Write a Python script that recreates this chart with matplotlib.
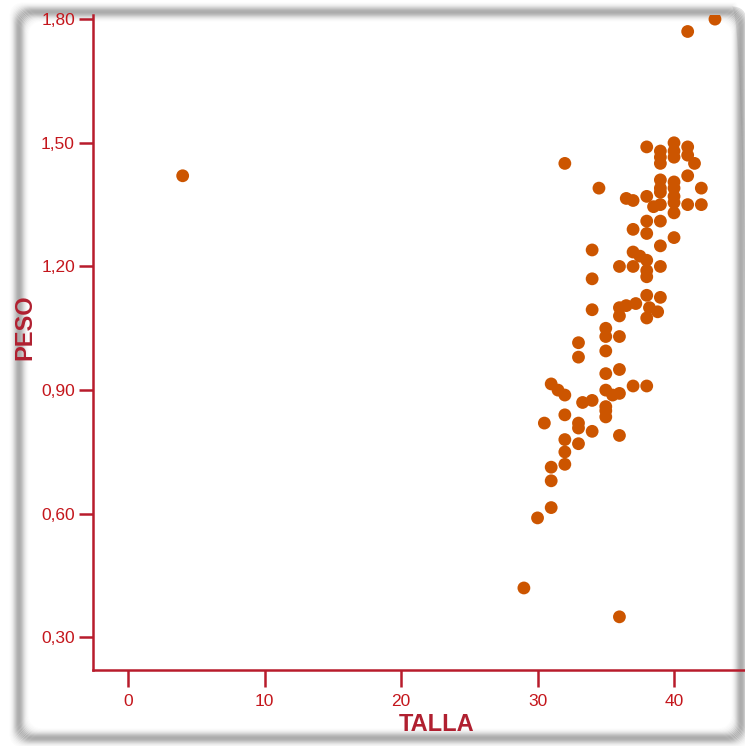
import numpy as np
import matplotlib
matplotlib.use("Agg")
import matplotlib.pyplot as plt
from matplotlib.patches import FancyBboxPatch

# datos (TALLA, PESO)
talla = [4, 41, 43, 32, 34.5, 29, 36, 30, 31, 30.5,
         38, 39, 39, 39, 40, 40, 40, 41, 41, 41.5, 41, 42,
         39, 39, 39, 40, 40, 40, 40, 38, 36.5, 37, 38.5, 39, 40, 41, 42,
         38, 39, 37, 38, 40, 39, 34, 37, 37.5, 38, 36, 37, 38, 38, 39, 34,
         38, 39, 34, 36, 36.5, 37.2, 36, 38.2, 38.8, 38,
         35, 35, 36, 33, 33, 35, 35, 36, 37, 38, 35, 35.5, 36,
         31, 31.5, 32, 33.3, 34, 35, 35, 35, 32, 33, 33, 34, 36,
         32, 33, 32, 31, 32, 31]
peso = [1.42, 1.77, 1.80, 1.45, 1.39, 0.42, 0.35, 0.59, 0.615, 0.82,
        1.49, 1.48, 1.465, 1.45, 1.50, 1.48, 1.465, 1.49, 1.47, 1.45, 1.42, 1.39,
        1.41, 1.39, 1.38, 1.405, 1.39, 1.37, 1.355, 1.37, 1.365, 1.36, 1.345, 1.35, 1.33, 1.35, 1.35,
        1.31, 1.31, 1.29, 1.28, 1.27, 1.25, 1.24, 1.235, 1.225, 1.215, 1.20, 1.20, 1.19, 1.175, 1.20, 1.17,
        1.13, 1.125, 1.095, 1.10, 1.105, 1.11, 1.08, 1.10, 1.09, 1.075,
        1.05, 1.03, 1.03, 1.015, 0.98, 0.995, 0.94, 0.95, 0.91, 0.91, 0.90, 0.888, 0.892,
        0.915, 0.90, 0.888, 0.87, 0.875, 0.86, 0.85, 0.835, 0.84, 0.82, 0.808, 0.80, 0.79,
        0.78, 0.77, 0.75, 0.713, 0.72, 0.68]

xticks = [0, 10, 20, 30, 40]
yticks = [0.30, 0.60, 0.90, 1.20, 1.50, 1.80]
ytick_labels = ["0,30", "0,60", "0,90", "1,20", "1,50", "1,80"]

rojo = "#b81c2c"
rojo_txt = "#c4161c"
naranja = "#cc5500"

plt.rcParams['font.family'] = ['Liberation Sans', 'DejaVu Sans']

W, H = 745, 746
fig = plt.figure(figsize=(W / 100, H / 100), dpi=100)

# marco con sombra gris alrededor
L, T, R, B = 19, 12, 741, 738
for d in range(-9, 10):
    a = 0.55 * np.exp(-(d / 5.0) ** 2)
    p = FancyBboxPatch(((L - d) / W, 1 - (B + d) / H), (R - L + 2 * d) / W, (B - T + 2 * d) / H,
                       boxstyle="round,pad=0,rounding_size=0.02", transform=fig.transFigure,
                       fill=False, edgecolor="#6e6e6e", alpha=a, linewidth=0.9, zorder=-1)
    fig.add_artist(p)

ax = fig.add_axes([93 / W, 1 - 670 / H, (W - 93) / W, (670 - 15) / H])
ax.patch.set_alpha(0)
ax.scatter(talla, peso, s=85, color=naranja, edgecolors="none", zorder=3)

ax.set_xlim(-2.57, 45.2)
ax.set_ylim(0.221, 1.81)
ax.set_xticks(xticks)
ax.set_yticks(yticks)
ax.set_yticklabels(ytick_labels)

for s in ["top", "right"]:
    ax.spines[s].set_visible(False)
for s in ["left", "bottom"]:
    ax.spines[s].set_color(rojo)
    ax.spines[s].set_linewidth(1.8)

ax.tick_params(axis="y", length=10, width=1.8, pad=3, color=rojo, labelcolor=rojo_txt, labelsize=12.5)
ax.tick_params(axis="x", length=12, width=1.8, pad=5, color=rojo, labelcolor=rojo_txt, labelsize=12.5)

ax.set_xlabel("TALLA", fontsize=17, fontweight="bold", color="#b02030")
ax.set_ylabel("PESO", fontsize=17, fontweight="bold", color="#b02030")
ax.xaxis.set_label_coords((437 - 93) / (W - 93), (670 - 713) / 655)
ax.yaxis.set_label_coords((36 - 93) / (W - 93), (670 - 327) / 655)

fig.savefig("out.png", dpi=100)
